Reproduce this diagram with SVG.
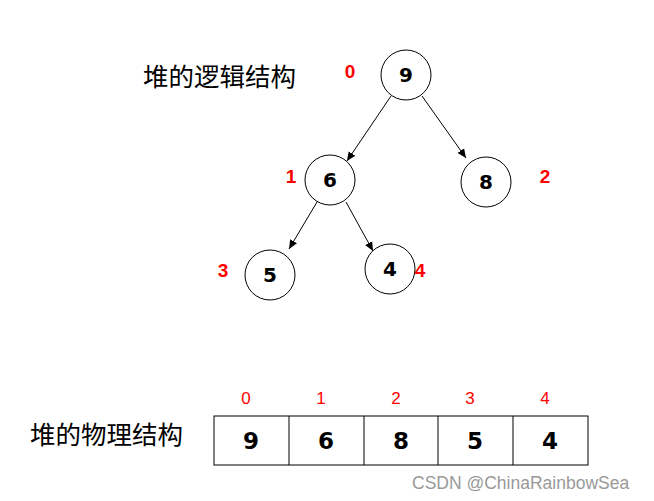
<svg xmlns="http://www.w3.org/2000/svg" width="654" height="501" viewBox="0 0 654 501">
<defs><marker id="a" markerWidth="10" markerHeight="10" refX="9" refY="5" orient="auto" markerUnits="userSpaceOnUse"><path d="M0,1 L9,5 L0,9 Z" fill="#000"/></marker></defs>
<style>
.n circle{fill:#fff;stroke:#000;stroke-width:1}
.v{font-family:"DejaVu Sans",sans-serif;font-size:20px;font-weight:bold;text-anchor:middle}
.r{font-family:"Liberation Sans",sans-serif;font-size:19px;fill:#f00;font-weight:bold;text-anchor:middle}
.i{font-family:"Liberation Sans",sans-serif;font-size:17px;fill:#f00;text-anchor:middle}
.t{font-family:"Noto Sans CJK SC",sans-serif;font-size:25.5px}
.c line{stroke:#000;stroke-width:1;marker-end:url(#a)}
</style>
<rect width="654" height="501" fill="#fff"/>
<text class="t" x="143" y="86">堆的逻辑结构</text>
<text class="t" x="30" y="444">堆的物理结构</text>
<g class="c">
<line x1="391" y1="96" x2="347" y2="161"/>
<line x1="422" y1="96" x2="466" y2="158"/>
<line x1="317" y1="202" x2="289" y2="249"/>
<line x1="346" y1="202" x2="373" y2="251"/>
</g>
<g id="n9" class="n"><circle cx="406" cy="75" r="25"/><text class="v" x="406" y="82">9</text></g>
<g id="n6" class="n"><circle cx="330" cy="180" r="25"/><text class="v" x="330" y="187">6</text></g>
<g id="n8" class="n"><circle cx="486" cy="182" r="25"/><text class="v" x="486" y="189">8</text></g>
<g id="n5" class="n"><circle cx="270" cy="275" r="25"/><text class="v" x="270" y="282">5</text></g>
<g id="n4" class="n"><circle cx="390" cy="269" r="25"/><text class="v" x="390" y="276">4</text></g>
<text class="r" x="350" y="78">0</text>
<text class="r" x="291" y="183">1</text>
<text class="r" x="545" y="183">2</text>
<text class="r" x="223" y="277">3</text>
<text class="r" x="420" y="277">4</text>
<g id="array">
<rect x="214" y="416" width="374" height="49" fill="none" stroke="#000"/>
<line x1="289" y1="416" x2="289" y2="465" stroke="#000"/>
<line x1="364" y1="416" x2="364" y2="465" stroke="#000"/>
<line x1="438" y1="416" x2="438" y2="465" stroke="#000"/>
<line x1="513" y1="416" x2="513" y2="465" stroke="#000"/>
<text class="v" x="251" y="449" style="font-size:23px">9</text>
<text class="v" x="326" y="449" style="font-size:23px">6</text>
<text class="v" x="401" y="449" style="font-size:23px">8</text>
<text class="v" x="475" y="449" style="font-size:23px">5</text>
<text class="v" x="550" y="449" style="font-size:23px">4</text>
<text class="i" x="246" y="404">0</text>
<text class="i" x="321" y="404">1</text>
<text class="i" x="396" y="404">2</text>
<text class="i" x="470" y="404">3</text>
<text class="i" x="545" y="404">4</text>
</g>
<text x="412" y="489" font-family="Liberation Sans,sans-serif" font-size="17.5" fill="#999">CSDN @ChinaRainbowSea</text>
</svg>
